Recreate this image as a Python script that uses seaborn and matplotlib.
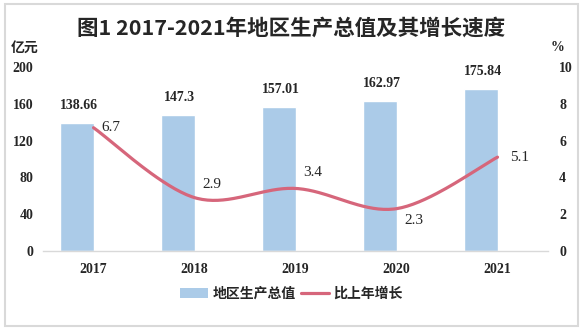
import numpy as np
import pandas as pd
import matplotlib
matplotlib.use("Agg")
import matplotlib.pyplot as plt
from matplotlib.patches import Rectangle, Patch
from matplotlib.lines import Line2D
import seaborn as sns

years = ["2017", "2018", "2019", "2020", "2021"]
gdp = [138.66, 147.3, 157.01, 162.97, 175.84]
growth = [6.7, 2.9, 3.4, 2.3, 5.1]
gdp_labels = ["138.66", "147.3", "157.01", "162.97", "175.84"]
growth_labels = ["6.7", "2.9", "3.4", "2.3", "5.1"]

title = "图1 2017-2021年地区生产总值及其增长速度"
bar_name = "地区生产总值"
line_name = "比上年增长"

BAR_COLOR = "#abcbe8"
LINE_COLOR = "#d6667b"
TEXT_COLOR = "#262626"

sns.set_theme(style="white")
plt.rcParams["font.family"] = ["Noto Sans CJK SC", "DejaVu Sans"]

num_font = dict(family="Liberation Serif", fontweight="bold", color=TEXT_COLOR)

fig = plt.figure(figsize=(5.83, 3.30), dpi=100)
fig.patch.set_facecolor("white")
fig.add_artist(Rectangle((0.008, 0.012), 0.984, 0.976, transform=fig.transFigure,
                         fill=False, edgecolor="#d9d9d9", linewidth=1.5))

ax = fig.add_axes([0.0738, 0.2394, 0.8662, 0.5576])
df = pd.DataFrame({"year": years, "gdp": gdp})
sns.barplot(data=df, x="year", y="gdp", color=BAR_COLOR, width=0.33,
            saturation=1, ax=ax, zorder=2)
# each bar sits just left of its category centre
for p in ax.patches:
    p.set_x(p.get_x() - p.get_width() / 2)

ax.set_ylim(0, 200)
ax.set_xlim(-0.5, len(years) - 0.5)
ax.set_yticks([0, 40, 80, 120, 160, 200])
ax.set_xlabel("")
ax.set_ylabel("")
for s in ["top", "right", "left"]:
    ax.spines[s].set_visible(False)
ax.spines["bottom"].set_color("#d9d9d9")
ax.spines["bottom"].set_linewidth(1.0)
ax.tick_params(axis="both", length=0, pad=7)
ax.tick_params(axis="x", pad=9)
for lab in ax.get_yticklabels() + ax.get_xticklabels():
    lab.set_fontfamily("Liberation Serif")
    lab.set_fontweight("bold")
    lab.set_fontsize(10)
    lab.set_color(TEXT_COLOR)

for i, (v, t) in enumerate(zip(gdp, gdp_labels)):
    ax.text(i - 0.165 + 0.02, v + 12, t, ha="center", va="bottom", fontsize=10, **num_font)

# growth rate on the secondary axis, drawn as a smooth curve
ax2 = ax.twinx()
ax2.set_ylim(0, 10)
ax2.set_yticks([0, 2, 4, 6, 8, 10])
for s in ["top", "right", "left", "bottom"]:
    ax2.spines[s].set_visible(False)
ax2.tick_params(axis="y", length=0, pad=8)
for lab in ax2.get_yticklabels():
    lab.set_fontfamily("Liberation Serif")
    lab.set_fontweight("bold")
    lab.set_fontsize(10)
    lab.set_color(TEXT_COLOR)


def catmull_rom(xs, ys, n=40):
    xs = np.asarray(xs, float)
    ys = np.asarray(ys, float)
    px = np.concatenate([[xs[0]], xs, [xs[-1]]])
    py = np.concatenate([[ys[0]], ys, [ys[-1]]])
    outx, outy = [], []
    for k in range(1, len(px) - 2):
        t = np.linspace(0, 1, n)
        p0, p1, p2, p3 = (np.array([px[j], py[j]]) for j in (k - 1, k, k + 1, k + 2))
        b0 = p1
        b1 = p1 + (p2 - p0) / 6
        b2 = p2 - (p3 - p1) / 6
        b3 = p2
        pts = ((1 - t) ** 3)[:, None] * b0 + (3 * (1 - t) ** 2 * t)[:, None] * b1 \
            + (3 * (1 - t) * t ** 2)[:, None] * b2 + (t ** 3)[:, None] * b3
        outx.extend(pts[:, 0])
        outy.extend(pts[:, 1])
    return np.array(outx), np.array(outy)


xpos = np.arange(len(years))
cx, cy = catmull_rom(xpos, growth)
sns.lineplot(x=cx, y=cy, sort=False, color=LINE_COLOR, linewidth=2.3, ax=ax2,
             estimator=None)
ax2.set_xlim(-0.5, len(years) - 0.5)

line_font = dict(family="Liberation Serif", color=TEXT_COLOR, fontsize=11)
offsets = [(0.17, 0.0, "center"), (0.17, 0.35, "bottom"), (0.17, 0.5, "bottom"),
           (0.17, -0.3, "top"), (0.22, 0.0, "center")]
for i, (v, t) in enumerate(zip(growth, growth_labels)):
    dx, dy, va = offsets[i]
    ax2.text(i + dx, v + dy, t, ha="center", va=va, **line_font)

fig.text(0.5, 0.915, title, ha="center", va="center", fontsize=15.5,
         fontweight="bold", color=TEXT_COLOR)
fig.text(0.042, 0.855, "亿元", ha="center", va="center", fontsize=10,
         fontweight="bold", color=TEXT_COLOR)
fig.text(0.957, 0.855, "%", ha="center", va="center", fontsize=10,
         fontweight="bold", color=TEXT_COLOR, family="Liberation Serif")

handles = [Patch(facecolor=BAR_COLOR, edgecolor="none"),
           Line2D([0], [0], color=LINE_COLOR, linewidth=2.3)]
leg = fig.legend(handles, [bar_name, line_name], loc="center",
                 bbox_to_anchor=(0.5, 0.11), ncol=2, frameon=False,
                 handlelength=2.0, handleheight=0.7, columnspacing=0.4,
                 handletextpad=0.3, prop={"size": 10, "weight": "bold"})
for txt in leg.get_texts():
    txt.set_color(TEXT_COLOR)

fig.savefig("out.png", dpi=100, facecolor="white")
